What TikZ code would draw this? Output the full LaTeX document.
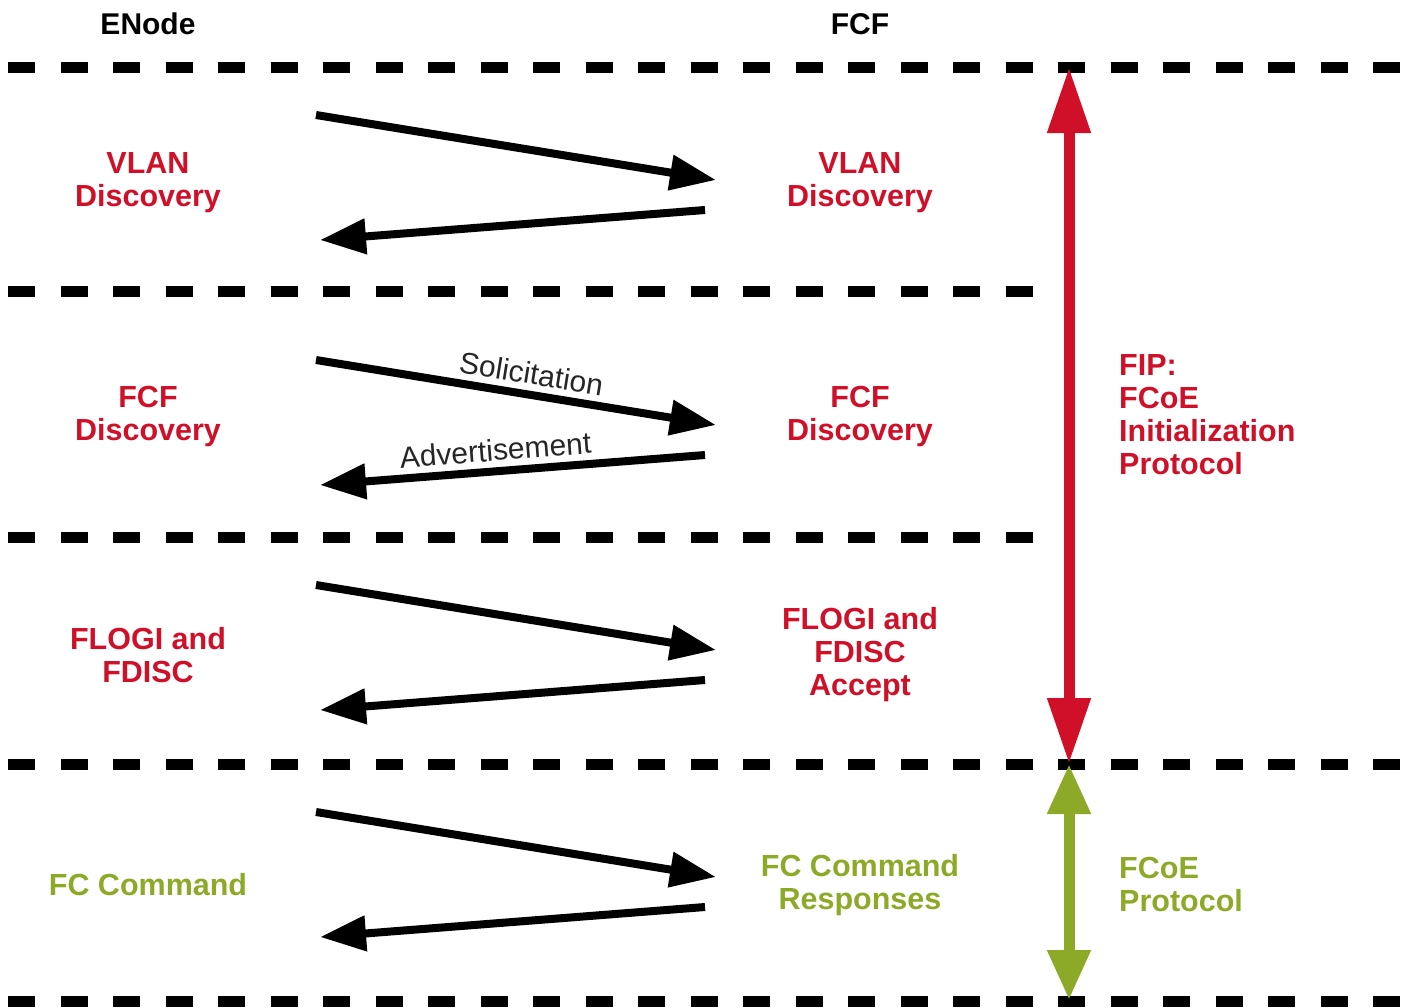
\documentclass[tikz,border=0pt]{standalone}
\usepackage{fontspec}
\setmainfont{Liberation Sans}
\usetikzlibrary{arrows.meta,positioning}
\definecolor{fipred}{RGB}{208,16,40}
\definecolor{fcoegreen}{RGB}{140,170,40}

\begin{document}
\begin{tikzpicture}[x=1pt,y=-1pt,
    sep/.style={line width=11pt,dash pattern=on 27pt off 25.5pt},
    msg/.style={line width=8pt,-{Triangle[length=46pt,width=34pt]}},
    lbl/.style={font=\fontsize{30.5}{33}\selectfont\bfseries,align=center,inner sep=0pt},
    side/.style={font=\fontsize{30.5}{33}\selectfont\bfseries,align=left,anchor=west,inner sep=0pt},
    tag/.style={font=\fontsize{30}{32}\selectfont,text=black!85,sloped,above=8pt,inner sep=2pt}]
  \useasboundingbox (0,0) rectangle (1407,1007);
  % column heads
  \node[font=\fontsize{30}{32}\selectfont\bfseries] (enode) at (148,24) {ENode};
  \node[font=\fontsize{30}{32}\selectfont\bfseries] (fcf) at (860,24) {FCF};
  % separators
  \draw[sep] (8,67) -- (1400,67);
  \draw[sep] (8,291) -- (1040,291);
  \draw[sep] (8,537) -- (1040,537);
  \draw[sep] (8,764) -- (1400,764);
  \draw[sep] (8,1001) -- (1400,1001);
  % message pairs
  \foreach \y [count=\i] in {115,360,585,812} {
    \coordinate (a\i) at (316,\y);
    \coordinate (b\i) at (716,\y+65);
    \coordinate (c\i) at (705,\y+95);
    \coordinate (d\i) at (320,\y+125);
    \draw[msg] (a\i) -- (b\i);
    \draw[msg] (c\i) -- (d\i);
  }
  \path (a2) -- node[tag,pos=0.53] (sol) {Solicitation} (b2);
  \path (c2) -- node[tag,pos=0.54] (adv) {Advertisement} (d2);
  % ENode side
  \node[lbl,fipred] (vlanE) at (148,183) {VLAN\\Discovery};
  \node[lbl,fipred] (fcfE) at (148,417) {FCF\\Discovery};
  \node[lbl,fipred] (flogiE) at (148,655) {FLOGI and\\FDISC};
  \node[lbl,fcoegreen] (cmdE) at (148,885) {FC Command};
  % FCF side
  \node[lbl,fipred] (vlanF) at (860,183) {VLAN\\Discovery};
  \node[lbl,fipred] (fcfF) at (860,417) {FCF\\Discovery};
  \node[lbl,fipred] (flogiF) at (860,655) {FLOGI and\\FDISC\\Accept};
  \node[lbl,fcoegreen] (cmdF) at (860,885) {FC Command\\Responses};
  % protocol spans
  \coordinate (fiptop) at (1069,67);
  \coordinate (fipbot) at (1069,764);
  \coordinate (fcoebot) at (1069,1000);
  \draw[fipred,line width=11pt,{Triangle[length=66pt,width=41pt]}-{Triangle[length=66pt,width=41pt]}] (fiptop) -- (fipbot);
  \draw[fcoegreen,line width=11pt,{Triangle[length=50pt,width=41pt]}-{Triangle[length=50pt,width=41pt]}] (fipbot) -- (fcoebot);
  \node[side,fipred] (fip) at (1119,415) {FIP:\\FCoE\\Initialization\\Protocol};
  \node[side,fcoegreen] (fcoe) at (1119,884) {FCoE\\Protocol};
\end{tikzpicture}
\end{document}
